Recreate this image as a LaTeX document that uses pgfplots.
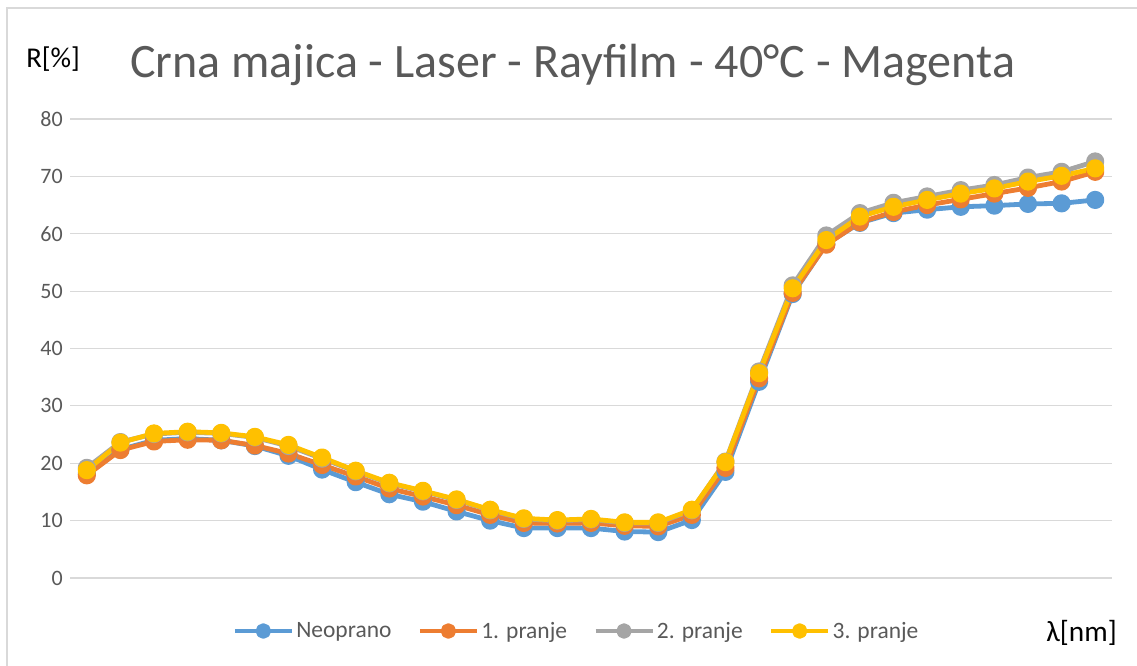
\documentclass[border=0pt]{standalone}
\usepackage{fontspec}
\setmainfont{Carlito}
\usepackage{pgfplots}
\pgfplotsset{compat=1.18}
\definecolor{cblue}{HTML}{5B9BD5}
\definecolor{corange}{HTML}{ED7D31}
\definecolor{cgray}{HTML}{A5A5A5}
\definecolor{cyellow}{HTML}{FFC000}
\definecolor{txtgray}{HTML}{595959}
\definecolor{gridgray}{HTML}{D9D9D9}
\begin{document}
\begin{tikzpicture}
\path[use as bounding box] (0pt,0pt) rectangle (852.75pt,-499.5pt);
\draw[gridgray, line width=0.9pt] (5.25pt,-499.5pt) -- (5.25pt,-6pt) -- (852.75pt,-6pt);
\begin{axis}[
  at={(52.5pt,-433.5pt)}, anchor=south west,
  width=781.5pt, height=344.25pt, scale only axis,
  xmin=-0.5, xmax=30.5, ymin=0, ymax=80,
  ytick={0,10,...,80}, xtick=\empty,
  major tick length=0pt,
  axis line style={draw=none},
  ymajorgrids, grid style={gridgray, line width=0.9pt},
  /pgf/number format/assume math mode=true,
  yticklabel style={font=\fontsize{16.5}{18}\selectfont, text=txtgray, inner sep=0pt, xshift=-5.25pt},
  clip=false,
  every axis plot/.append style={line width=3.6pt, mark=*, mark size=5pt, line join=round},
  legend image code/.code={\draw[#1, mark repeat=2, mark phase=2, mark size=4pt] plot coordinates {(0pt,0pt) (21.4pt,0pt) (42.8pt,0pt)};},
  legend columns=4,
  legend style={at={(0.486,-0.1155)}, anchor=center, draw=none, fill=none,
    font=\fontsize{17.6}{20}\selectfont, text=txtgray,
    nodes={inner sep=1.5pt},
    /tikz/every even column/.append style={column sep=18pt}},
  legend cell align=left,
]
\addplot[cblue, mark options={fill=cblue, draw=cblue}] coordinates {
(0,18.2) (1,22.4) (2,24.0) (3,24.3) (4,24.0) (5,23.0) (6,21.3) (7,18.9) (8,16.7) (9,14.6)
(10,13.3) (11,11.6) (12,10.0) (13,8.7) (14,8.7) (15,8.7) (16,8.1) (17,8.0) (18,10.1) (19,18.5)
(20,34.2) (21,49.5) (22,58.2) (23,61.9) (24,63.6) (25,64.2) (26,64.7) (27,64.9) (28,65.2) (29,65.3) (30,65.9)};
\addlegendentry{Neoprano}
\addplot[corange, mark options={fill=corange, draw=corange}] coordinates {
(0,17.9) (1,22.3) (2,23.8) (3,24.1) (4,24.0) (5,23.1) (6,21.7) (7,19.7) (8,17.7) (9,15.6)
(10,14.2) (11,12.7) (12,11.0) (13,9.6) (14,9.5) (15,9.6) (16,9.1) (17,9.0) (18,11.0) (19,19.2)
(20,34.8) (21,49.7) (22,58.1) (23,62.0) (24,63.8) (25,65.0) (26,66.0) (27,67.0) (28,68.0) (29,69.1) (30,70.8)};
\addlegendentry{1. pranje}
\addplot[cgray, mark options={fill=cgray, draw=cgray}] coordinates {
(0,19.2) (1,23.7) (2,25.1) (3,25.4) (4,25.2) (5,24.5) (6,23.0) (7,20.8) (8,18.6) (9,16.5)
(10,15.1) (11,13.6) (12,11.8) (13,10.3) (14,10.0) (15,10.2) (16,9.6) (17,9.6) (18,11.8) (19,20.3)
(20,36.0) (21,51.0) (22,59.7) (23,63.6) (24,65.4) (25,66.5) (26,67.6) (27,68.5) (28,69.8) (29,70.8) (30,72.6)};
\addlegendentry{2. pranje}
\addplot[cyellow, mark options={fill=cyellow, draw=cyellow}] coordinates {
(0,18.8) (1,23.6) (2,25.2) (3,25.5) (4,25.3) (5,24.6) (6,23.2) (7,21.0) (8,18.7) (9,16.6)
(10,15.2) (11,13.7) (12,11.9) (13,10.4) (14,10.1) (15,10.3) (16,9.7) (17,9.7) (18,11.9) (19,20.2)
(20,35.7) (21,50.5) (22,58.9) (23,63.0) (24,64.7) (25,65.9) (26,67.0) (27,67.9) (28,69.1) (29,70.1) (30,71.4)};
\addlegendentry{3. pranje}
\end{axis}
\node[anchor=base, inner sep=0pt, text=txtgray, font=\fontsize{36}{40}\selectfont] at (429.4pt,-58.5pt) {Crna majica - Laser - Rayfilm - 40°C - Magenta};
\node[anchor=base west, inner sep=0pt, font=\fontsize{21.5}{24}\selectfont] at (19.5pt,-51pt) {R[\%]};
\node[anchor=base east, inner sep=0pt, font=\fontsize{22}{24}\selectfont] at (837.75pt,-480.75pt) {λ[nm]};
\end{tikzpicture}
\end{document}
